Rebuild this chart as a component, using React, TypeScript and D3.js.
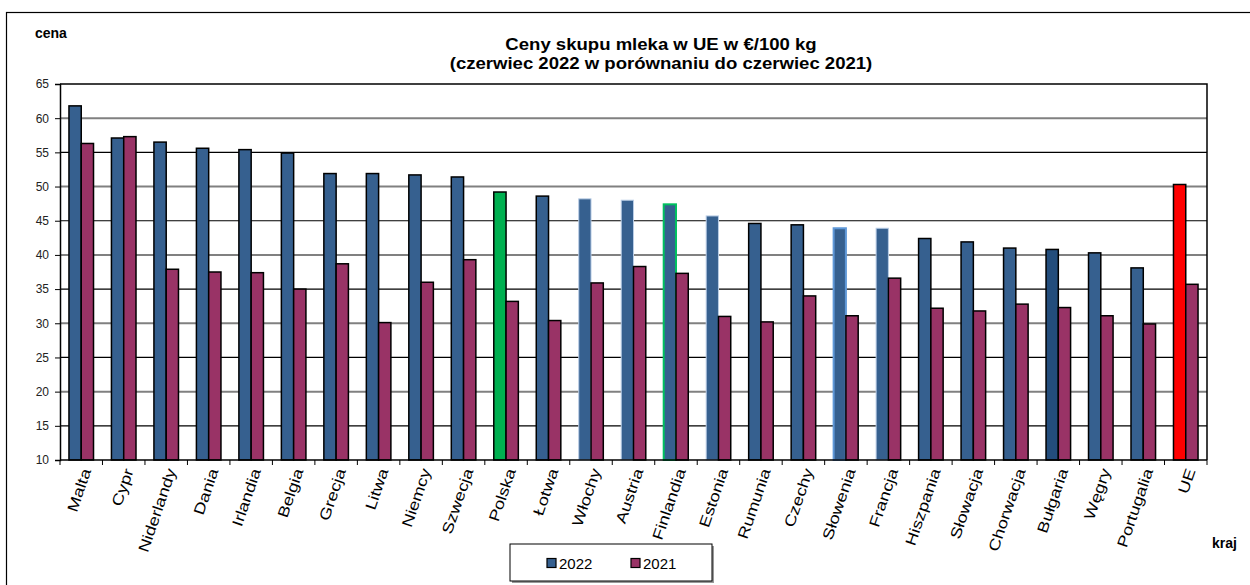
import { useEffect, useRef } from 'react'
import * as d3 from 'd3'

const COUNTRIES = [
  'Malta', 'Cypr', 'Niderlandy', 'Dania', 'Irlandia', 'Belgia', 'Grecja', 'Litwa', 'Niemcy',
  'Szwecja', 'Polska', 'Łotwa', 'Włochy', 'Austria', 'Finlandia', 'Estonia', 'Rumunia',
  'Czechy', 'Słowenia', 'Francja', 'Hiszpania', 'Słowacja', 'Chorwacja', 'Bułgaria',
  'Węgry', 'Portugalia', 'UE',
]
const PRICE_2022 = [
  61.8, 57.1, 56.5, 55.6, 55.4, 54.9, 51.9, 51.9, 51.7, 51.4, 49.2, 48.6, 48.2, 48.0,
  47.4, 45.7, 44.6, 44.4, 43.9, 43.9, 42.4, 41.9, 41.0, 40.8, 40.3, 38.1, 50.3,
]
const PRICE_2021 = [
  56.3, 57.3, 37.9, 37.5, 37.4, 35.0, 38.7, 30.1, 36.0, 39.3, 33.2, 30.4, 35.9, 38.3,
  37.3, 31.0, 30.2, 34.0, 31.1, 36.6, 32.2, 31.8, 32.8, 32.3, 31.1, 29.9, 35.7,
]
const SERIES = ['2022', '2021']
const Y_TICKS = [10, 15, 20, 25, 30, 35, 40, 45, 50, 55, 60, 65]

const BLUE = '#36608f'
const PLUM = '#993366'

// per-country look of the 2022 bar (default: blue with black outline)
const STYLE_2022: Record<string, { fill: string; stroke: string; sw: number }> = {
  Polska: { fill: '#00b050', stroke: '#000', sw: 1.5 },
  Włochy: { fill: BLUE, stroke: '#b9cde6', sw: 1 },
  Austria: { fill: BLUE, stroke: '#b9cde6', sw: 1 },
  Finlandia: { fill: BLUE, stroke: '#00c060', sw: 2 },
  Estonia: { fill: BLUE, stroke: '#b9cde6', sw: 1 },
  Słowenia: { fill: BLUE, stroke: '#5f98d8', sw: 2 },
  Francja: { fill: BLUE, stroke: '#b9cde6', sw: 1 },
  Bułgaria: { fill: '#234d7c', stroke: '#000', sw: 1.5 },
  UE: { fill: '#ff0000', stroke: '#000', sw: 1.5 },
}

export default function App() {
  const ref = useRef<SVGSVGElement>(null)

  useEffect(() => {
    const svg = d3.select(ref.current)
    svg.selectAll('*').remove()

    const width = 1250
    const height = 585
    const margin = { top: 84, right: 43, bottom: 125, left: 60 }
    const innerW = width - margin.left - margin.right
    const innerH = height - margin.top - margin.bottom
    const font = 'Arimo, "Liberation Sans", Arial, sans-serif'

    svg.attr('viewBox', `0 0 ${width} ${height}`).attr('width', width).attr('height', height)
      .style('font-family', font)

    svg.append('rect')
      .attr('x', 6.5).attr('y', 12.5).attr('width', 1300).attr('height', 700)
      .attr('fill', '#fff').attr('stroke', '#000').attr('stroke-width', 1.2)

    const g = svg.append('g').attr('transform', `translate(${margin.left},${margin.top})`)

    const x = d3.scaleBand().domain(COUNTRIES).range([0, innerW]).paddingInner(0).paddingOuter(0)
    const xs = d3.scaleBand().domain(SERIES).range([0, x.bandwidth()]).paddingInner(0).paddingOuter(0.73)
    const y = d3.scaleLinear().domain([10, 65]).range([innerH, 0])

    // gridlines
    g.selectAll('.grid')
      .data(Y_TICKS.filter(t => t > 10 && t < 65))
      .join('line')
      .attr('x1', 0).attr('x2', innerW)
      .attr('y1', d => y(d)).attr('y2', d => y(d))
      .attr('stroke', d => (d % 10 === 0 ? '#808080' : '#000'))
      .attr('stroke-width', d => (d % 10 === 0 ? 2 : 1.2))

    // top + right frame
    g.append('path')
      .attr('d', `M0,${y(65)}H${innerW}V${innerH}`)
      .attr('fill', 'none').attr('stroke', '#000').attr('stroke-width', 1.5)

    const groups = g.selectAll('.grp')
      .data(COUNTRIES)
      .join('g')
      .attr('transform', d => `translate(${x(d)},0)`)

    groups.append('rect')
      .attr('x', xs('2022')!)
      .attr('width', xs.bandwidth())
      .attr('y', (_, i) => y(PRICE_2022[i]))
      .attr('height', (_, i) => innerH - y(PRICE_2022[i]))
      .attr('fill', d => STYLE_2022[d]?.fill ?? BLUE)
      .attr('stroke', d => STYLE_2022[d]?.stroke ?? '#000')
      .attr('stroke-width', d => STYLE_2022[d]?.sw ?? 1.5)

    groups.append('rect')
      .attr('x', xs('2021')!)
      .attr('width', xs.bandwidth())
      .attr('y', (_, i) => y(PRICE_2021[i]))
      .attr('height', (_, i) => innerH - y(PRICE_2021[i]))
      .attr('fill', PLUM)
      .attr('stroke', '#000')
      .attr('stroke-width', 1.5)

    // y axis
    const yAxis = g.append('g')
      .call(d3.axisLeft(y).tickValues(Y_TICKS).tickSize(5).tickPadding(6))
    yAxis.select('.domain').attr('stroke', '#000').attr('stroke-width', 1.5)
    yAxis.selectAll('line').attr('stroke', '#000')
    yAxis.selectAll('text').attr('font-size', 12).attr('fill', '#222').attr('font-family', font)

    // x axis: ticks at category boundaries
    const bounds = COUNTRIES.map(c => x(c)!).concat([innerW])
    const xAxis = g.append('g').attr('transform', `translate(0,${innerH})`)
    xAxis.append('line').attr('x1', 0).attr('x2', innerW).attr('stroke', '#000').attr('stroke-width', 1.5)
    xAxis.selectAll('.tk')
      .data(bounds)
      .join('line')
      .attr('x1', d => d).attr('x2', d => d).attr('y1', 0).attr('y2', 5)
      .attr('stroke', '#000')
    xAxis.selectAll('.lbl')
      .data(COUNTRIES)
      .join('text')
      .attr('transform', d => `translate(${x(d)! + x.bandwidth() / 2 + 5},9) rotate(-71) scale(1.22,1)`)
      .attr('text-anchor', 'end')
      .attr('dy', '0.35em')
      .attr('font-size', 15)
      .attr('fill', '#000')
      .text(d => d)

    // titles
    svg.append('text').attr('x', 35).attr('y', 38)
      .attr('font-size', 14).attr('font-weight', 'bold').text('cena')
    svg.append('text').attr('x', 1212).attr('y', 548)
      .attr('font-size', 14).attr('font-weight', 'bold').text('kraj')
    const title = svg.append('text')
      .attr('transform', 'translate(661,0) scale(1.16,1)')
      .attr('text-anchor', 'middle')
      .attr('font-size', 16).attr('font-weight', 'bold')
    title.append('tspan').attr('x', 0).attr('y', 50).text('Ceny skupu mleka  w UE w €/100 kg')
    title.append('tspan').attr('x', 0).attr('y', 69).text('(czerwiec 2022  w porównaniu do czerwiec 2021)')

    // legend
    const lg = svg.append('g').attr('transform', 'translate(510,544)')
    lg.append('rect').attr('x', 2).attr('y', 2).attr('width', 202).attr('height', 37).attr('fill', '#999')
    lg.append('rect').attr('width', 202).attr('height', 37).attr('fill', '#fff').attr('stroke', '#000')
    const items = lg.selectAll('.it')
      .data(SERIES)
      .join('g')
      .attr('transform', (_, i) => `translate(${37 + i * 84},19)`)
    items.append('rect').attr('x', 0).attr('y', -4.5).attr('width', 9).attr('height', 9)
      .attr('fill', (_, i) => (i === 0 ? BLUE : PLUM)).attr('stroke', '#000').attr('stroke-width', 1.2)
    items.append('text').attr('x', 12).attr('y', 5.5).attr('font-size', 15).text(d => d)
  }, [])

  return (
    <svg ref={ref} style={{ position: 'absolute', left: 0, top: 0, background: '#fff' }} />
  )
}
